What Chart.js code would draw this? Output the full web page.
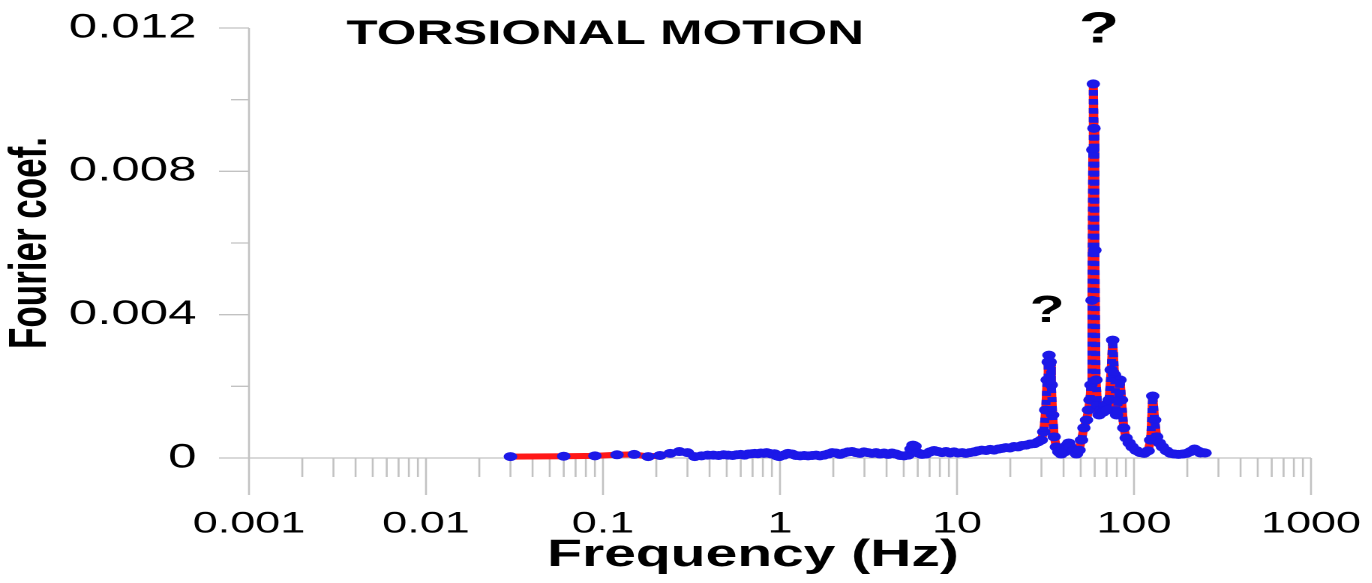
<!DOCTYPE html>
<html>
<head>
<meta charset="utf-8">
<script src="https://cdn.jsdelivr.net/npm/chart.js@4.4.1/dist/chart.umd.min.js"></script>
<style>
html, body { margin: 0; padding: 0; background: #fff; overflow: hidden; }
/* the source figure is stretched sideways, so the chart is drawn narrow and widened */
#wrap { position: absolute; left: 0; top: 0; width: 915px; height: 583px; transform: scaleX(1.5); transform-origin: 0 0; }
</style>
</head>
<body>
<div id="wrap"><canvas id="canvas"></canvas></div>
<script>
// spectrum (Hz, Fourier coefficient)
var freqHz = [
  0.03, 0.06, 0.09, 0.12, 0.15, 0.18, 0.21, 0.24, 0.27, 0.30,
  0.33, 0.36, 0.39, 0.42, 0.45, 0.48, 0.51, 0.54, 0.57, 0.60,
  0.63, 0.66, 0.69, 0.72, 0.75, 0.78, 0.81, 0.84, 0.87, 0.90,
  0.93, 0.96, 0.99,
  1.05, 1.11, 1.17, 1.23, 1.3, 1.37, 1.44, 1.52, 1.6, 1.68,
  1.77, 1.87, 1.97, 2.07, 2.18, 2.3, 2.42, 2.55, 2.69, 2.83,
  2.98, 3.14, 3.31, 3.49, 3.67, 3.87, 4.08, 4.29, 4.52, 4.77,
  5.02, 5.29, 5.5, 5.64, 5.79, 6.02, 6.34, 6.68, 7.04, 7.42,
  7.81, 8.23, 8.67, 9.13, 9.62, 10.1, 10.7, 11.2, 11.8, 12.5,
  13.1, 13.8, 14.6, 15.4, 16.2, 17.1, 18, 18.9, 19.9, 21,
  22.1, 23.3, 24.6, 25.9, 27.3, 28.7, 29.9, 30.9, 31.7, 32.3,
  32.75, 33.1, 33.6, 34.1, 34.7, 35.4, 36.4, 37.6, 38.8, 40.4,
  42, 42.8, 43.7, 45.5, 47.3, 48.9, 50.5, 52.1, 53.9, 55.3,
  56.4, 57.1, 57.9, 58.5, 58.9, 59.4, 60.1, 61, 62.2, 63.5,
  65.2, 66.9, 68.7, 70.5, 72.3, 74.3, 75.8, 77.6, 79.7, 81.8,
  83.4, 85, 87.5, 90.3, 93.9, 97.6, 102.8, 108.3, 114.1, 120.2,
  124.2, 127.6, 130.8, 134.3, 139.2, 144.8, 152.6, 160.8, 169.4, 178.4,
  188, 198, 208.6, 219.8, 228.5, 237.5, 247, 252
];
var fourierCoef = [
  0.00004, 0.00005, 0.00006, 0.00009, 0.0001, 0.00004, 0.00007, 0.00013, 0.00018, 0.00015,
  0.00004, 0.00006, 0.00008, 0.00008, 0.00007, 0.00009, 0.00008, 0.00007, 0.00009, 0.0001,
  0.00008, 0.00011, 0.00012, 0.00013, 0.00012, 0.00014, 0.00013, 0.00015, 0.00013, 0.00011,
  0.00012, 0.00006, 0.00004,
  0.00008, 0.00013, 0.00011, 0.00007, 0.00006, 0.00007, 0.00006, 0.00007, 0.00008, 0.00006,
  0.00008, 0.00011, 0.00015, 0.00014, 0.0001, 0.00014, 0.00017, 0.00018, 0.00015, 0.00013,
  0.00017, 0.00015, 0.00013, 0.00015, 0.00011, 0.00014, 0.0001, 0.00014, 0.00011, 0.00007,
  0.00006, 0.00008, 0.00025, 0.00036, 0.00033, 0.00014, 0.0001, 0.00011, 0.00017, 0.00021,
  0.00018, 0.00015, 0.00018, 0.00014, 0.00017, 0.00014, 0.00015, 0.00013, 0.00015, 0.00017,
  0.0002, 0.00022, 0.00021, 0.00024, 0.00022, 0.00025, 0.00027, 0.00029, 0.00028, 0.00032,
  0.00031, 0.00035, 0.00036, 0.00039, 0.0004, 0.00045, 0.0005, 0.00073, 0.00134, 0.00218,
  0.00268, 0.00287, 0.00268, 0.00204, 0.0012, 0.00059, 0.00031, 0.00017, 0.00011, 0.00017,
  0.00036, 0.00042, 0.00031, 0.0002, 0.00011, 0.00022, 0.0005, 0.00084, 0.00106, 0.00134,
  0.00162, 0.00204, 0.0044, 0.0086, 0.01044, 0.0092, 0.0058, 0.00218, 0.00148, 0.0012,
  0.00134, 0.00128, 0.00148, 0.00134, 0.00162, 0.00246, 0.00329, 0.00232, 0.0012, 0.00162,
  0.00218, 0.00162, 0.00084, 0.00056, 0.00042, 0.00031, 0.00021, 0.00015, 0.00013, 0.0002,
  0.0005, 0.00173, 0.00106, 0.00059, 0.00042, 0.00031, 0.0002, 0.00013, 0.00011, 0.0001,
  0.00011, 0.00013, 0.00018, 0.00025, 0.0002, 0.00014, 0.00015, 0.00014
];

// axes
var xMajorValues = [0.001, 0.01, 0.1, 1, 10, 100, 1000];
var xTickLabels = ['0.001', '0.01', '0.1', '1', '10', '100', '1000'];
var yTickValues = [0, 0.002, 0.004, 0.006, 0.008, 0.010, 0.012];
var yTickLabels = ['0', '', '0.004', '', '0.008', '', '0.012'];

// text on the plot
var chartTitle = 'TORSIONAL MOTION';
var xTitle = 'Frequency (Hz)';
var peakMarks = [
  { text: '?', f: 63.4, v: 0.0116 },
  { text: '?', f: 32.3, v: 0.0038 }
];

var RED = 'rgb(255,24,24)';
var BLUE = 'rgb(28,24,232)';
var AXIS = '#c2c2c2';
var FONT = '"Liberation Sans", Arial, Helvetica, sans-serif';

var points = freqHz.map(function(f, i){ return { x: f, y: fourierCoef[i] }; });

// log ticks: decades are major, 2..9 in between are minor
var xTicks = [];
$each = function(arr, fn){ for (var i = 0; i < arr.length; i++) fn(arr[i], i); };
$each(xMajorValues, function(d, i){
  xTicks.push({ value: d, major: true });
  if (i < xMajorValues.length - 1) {
    for (var m = 2; m <= 9; m++) xTicks.push({ value: parseFloat((m * d).toPrecision(3)), major: false });
  }
});

// keep the tick labels from pushing the plot area inwards
var noAutoPad = function(scale){
  scale.paddingTop = 0; scale.paddingBottom = 0;
  scale.paddingLeft = 0; scale.paddingRight = 0;
};

var axisPlugin = {
  id: 'axisTicks',
  beforeDatasetsDraw: function(chart){
    var ctx = chart.ctx, xs = chart.scales.x, ys = chart.scales.y, a = chart.chartArea;
    ctx.save();
    ctx.strokeStyle = AXIS;
    ctx.lineWidth = 1.3;
    ctx.beginPath();
    ctx.moveTo(a.left, a.bottom); ctx.lineTo(a.right, a.bottom);
    ctx.moveTo(a.left, a.top); ctx.lineTo(a.left, a.bottom);
    xs.ticks.forEach(function(t){
      var px = xs.getPixelForValue(t.value);
      ctx.moveTo(px, a.bottom);
      ctx.lineTo(px, a.bottom + (t.major ? 37 : 19));
    });
    ys.ticks.forEach(function(t){
      var py = ys.getPixelForValue(t.value);
      ctx.moveTo(a.left - (t.major ? 20 : 12), py);
      ctx.lineTo(a.left, py);
    });
    ctx.stroke();
    ctx.restore();
  },
  afterDraw: function(chart){
    var ctx = chart.ctx, xs = chart.scales.x, ys = chart.scales.y;
    ctx.save();
    ctx.fillStyle = '#000';
    ctx.textBaseline = 'alphabetic';
    ctx.font = 'bold 34px ' + FONT;
    ctx.textAlign = 'left';
    ctx.fillText(chartTitle, 231, 44);
    ctx.font = 'bold 38px ' + FONT;
    ctx.textAlign = 'center';
    ctx.fillText(xTitle, 502, 566);
    $each(peakMarks, function(p, i){
      ctx.font = 'bold ' + (i == 0 ? 44 : 38) + 'px ' + FONT;
      ctx.fillText(p.text, xs.getPixelForValue(p.f), ys.getPixelForValue(p.v));
    });
    ctx.restore();
  }
};

var ctx = document.getElementById('canvas').getContext('2d');
window.myLine = new Chart(ctx, {
  type: 'line',
  data: {
    datasets: [{
      // blue dashes over the steep flanks of the peaks
      label: 'flanks',
      data: points,
      borderWidth: 6,
      borderColor: 'rgba(0,0,0,0)',
      pointRadius: 0,
      clip: false,
      segment: {
        borderColor: function(c){ return Math.abs(c.p1.y - c.p0.y) > 12 ? BLUE : 'rgba(0,0,0,0)'; },
        borderDash: function(c){ return Math.abs(c.p1.y - c.p0.y) > 12 ? [5, 4] : undefined; }
      }
    }, {
      label: 'Fourier coef.',
      data: points,
      borderColor: RED,
      borderWidth: 6,
      borderJoinStyle: 'round',
      borderCapStyle: 'round',
      pointRadius: 4.5,
      pointBorderWidth: 0,
      pointBackgroundColor: BLUE,
      tension: 0,
      clip: false
    }]
  },
  options: {
    responsive: true,
    maintainAspectRatio: false,
    animation: false,
    devicePixelRatio: 2,
    layout: { autoPadding: false, padding: { top: 28, right: 41, left: 0, bottom: 0 } },
    plugins: { legend: { display: false }, tooltip: { enabled: false } },
    scales: {
      x: {
        type: 'logarithmic',
        min: 0.001,
        max: 1000,
        grid: { display: false, drawTicks: false },
        border: { display: false },
        afterBuildTicks: function(scale){ scale.ticks = xTicks.slice(); },
        afterFit: function(scale){ scale.height = 125; noAutoPad(scale); },
        ticks: {
          autoSkip: false,
          maxRotation: 0,
          padding: 48,
          color: '#000',
          font: { family: FONT, size: 30 },
          callback: function(value){
            var i = xMajorValues.indexOf(value);
            return i < 0 ? '' : xTickLabels[i];
          }
        },
        title: { display: false }
      },
      y: {
        type: 'linear',
        min: 0,
        max: 0.012,
        grid: { display: false, drawTicks: false },
        border: { display: false },
        afterBuildTicks: function(scale){
          scale.ticks = yTickValues.map(function(v, i){ return { value: v, major: yTickLabels[i] !== '' }; });
        },
        afterFit: function(scale){ scale.width = 166; noAutoPad(scale); },
        ticks: {
          autoSkip: false,
          padding: 35,
          color: '#000',
          font: { family: FONT, size: 34 },
          callback: function(value){
            var i = yTickValues.indexOf(value);
            return i < 0 ? '' : yTickLabels[i];
          }
        },
        title: {
          display: true,
          text: 'Fourier coef.',
          color: '#000',
          font: { family: FONT, size: 35, weight: 'bold' },
          padding: { top: 0, bottom: 0 }
        }
      }
    }
  },
  plugins: [axisPlugin]
});
</script>
</body>
</html>
